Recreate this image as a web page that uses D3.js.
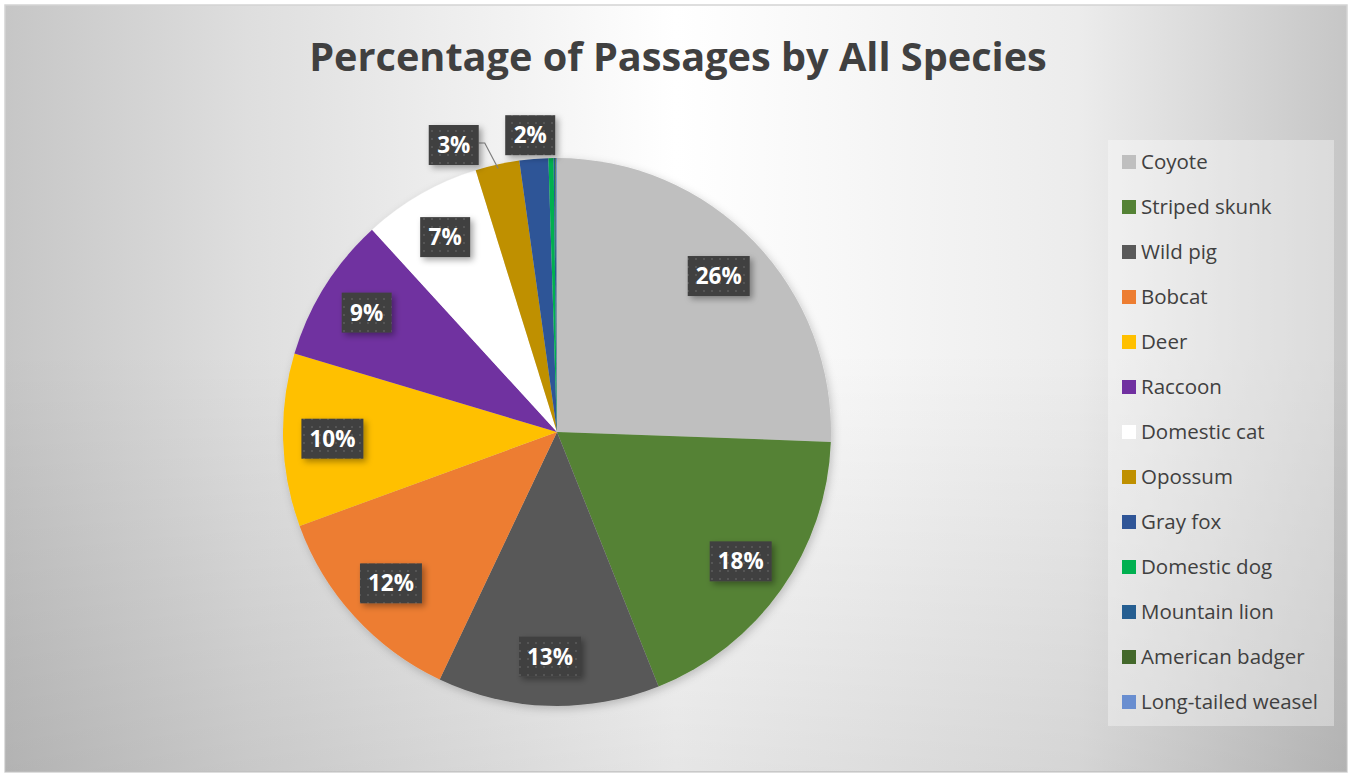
<!DOCTYPE html>
<html><head><meta charset="utf-8">
<script src="https://cdn.jsdelivr.net/npm/d3@7"></script>
<style>html,body{margin:0;padding:0;background:#fff;}svg{display:block;}</style>
</head><body>
<svg id="c" width="1352" height="776"></svg>
<script>
const categories = ["Coyote","Striped skunk","Wild pig","Bobcat","Deer","Raccoon","Domestic cat","Opossum","Gray fox","Domestic dog","Mountain lion","American badger","Long-tailed weasel"];
const values = [25.6,18.4,13.1,12.4,10.2,8.6,7.0,2.6,1.7,0.3,0.1,0.05,0.05];
const labels = ["26%","18%","13%","12%","10%","9%","7%","3%","2%","","","",""];
const colors = ["#bfbfbf","#548235","#595959","#ed7d31","#ffc000","#7030a0","#ffffff","#bf9000","#2f5597","#00b050","#255e91","#43682b","#698ed0"];
const title = "Percentage of Passages by All Species";

const svg = d3.select("#c");
const W = 1352, H = 776;
const defs = svg.append("defs");

// background: horizontal gradient + slight bottom darkening
const bg = defs.append("linearGradient").attr("id","bg").attr("x1","0").attr("x2","1").attr("y1","0").attr("y2","0");
[[0,"#c6c6c6"],[0.18,"#dedede"],[0.5,"#ffffff"],[0.8,"#ececec"],[1,"#c6c6c6"]].forEach(s=>
  bg.append("stop").attr("offset",s[0]).attr("stop-color",s[1]));
const bv = defs.append("linearGradient").attr("id","bv").attr("x1","0").attr("x2","0").attr("y1","0").attr("y2","1");
bv.append("stop").attr("offset","0.45").attr("stop-color","#000").attr("stop-opacity",0);
bv.append("stop").attr("offset","1").attr("stop-color","#000").attr("stop-opacity",0.1);

// dot pattern for label boxes
const pat = defs.append("pattern").attr("id","dots").attr("width",8).attr("height",8).attr("patternUnits","userSpaceOnUse");
pat.append("rect").attr("width",8).attr("height",8).attr("fill","#404040");
pat.append("rect").attr("x",2).attr("y",2).attr("width",2).attr("height",2).attr("fill","#555555");

const sh = defs.append("filter").attr("id","shadow").attr("x","-20%").attr("y","-20%").attr("width","150%").attr("height","150%");
sh.append("feDropShadow").attr("dx",3).attr("dy",3).attr("stdDeviation",3).attr("flood-color","#000").attr("flood-opacity",0.35);
const sh2 = defs.append("filter").attr("id","pshadow").attr("x","-10%").attr("y","-10%").attr("width","120%").attr("height","120%");
sh2.append("feDropShadow").attr("dx",2).attr("dy",3).attr("stdDeviation",4).attr("flood-color","#000").attr("flood-opacity",0.2);

svg.append("rect").attr("x",5).attr("y",5).attr("width",W-10).attr("height",H-9)
  .attr("fill","url(#bg)").attr("stroke","#d4d4d4").attr("stroke-width",1.5);
svg.append("rect").attr("x",5).attr("y",5).attr("width",W-10).attr("height",H-9).attr("fill","url(#bv)");

// title
const t = svg.append("text").attr("x",678).attr("y",71).attr("text-anchor","middle")
  .attr("font-family","'Open Sans', sans-serif").attr("font-weight","bold").attr("font-size",40)
  .attr("fill","#404040").text(title);
const tw = t.node().getComputedTextLength();
t.attr("font-size", 40*738/tw);

// pie
const cx = 557, cy = 432, R = 274;
const pie = d3.pie().sort(null).value(d=>d)(values);
const arc = d3.arc().innerRadius(0).outerRadius(R);
const g = svg.append("g").attr("transform",`translate(${cx},${cy})`);
g.append("g").attr("filter","url(#pshadow)").selectAll("path").data(pie).join("path")
  .attr("d",arc).attr("fill",(d,i)=>colors[i]);

// label font fitted to reference width
const probe = svg.append("text").attr("font-family","'Open Sans', sans-serif").attr("font-weight","bold").attr("font-size",20).text("26%");
const lfs = 20*46/probe.node().getComputedTextLength();
probe.remove();

const inner = d3.arc().innerRadius(R*0.82).outerRadius(R*0.82);
const outside = {7:{r:305,da:-7.2}, 8:{r:298,da:-0.3}};
const lg = g.append("g");
pie.forEach((d,i)=>{
  if(!labels[i]) return;
  let x,y;
  const mid = (d.startAngle+d.endAngle)/2;
  if(outside[i]){
    const a = mid + outside[i].da*Math.PI/180;
    x = outside[i].r*Math.sin(a); y = -outside[i].r*Math.cos(a);
  } else {
    [x,y] = inner.centroid(d);
  }
  const bw = labels[i].length===3 ? 62 : 50, bh = 40;
  if(i===7){
    const ex = (R-4)*Math.sin(mid), ey = -(R-4)*Math.cos(mid);
    lg.append("polyline").attr("points",`${x+bw/2},${y-2} ${x+bw/2+6},${y-2} ${ex},${ey}`)
      .attr("fill","none").attr("stroke","#7f7f7f").attr("stroke-width",1.2);
  }
  lg.append("rect").attr("x",x-bw/2).attr("y",y-bh/2).attr("width",bw).attr("height",bh)
    .attr("fill","url(#dots)").attr("filter","url(#shadow)");
  lg.append("text").attr("x",x).attr("y",y+lfs*0.36).attr("text-anchor","middle")
    .attr("font-family","'Open Sans', sans-serif").attr("font-weight","bold").attr("font-size",lfs)
    .attr("fill","#ffffff").text(labels[i]);
});

// legend
const lx = 1108, ly = 140, lw = 226, lh = 586;
svg.append("rect").attr("x",lx).attr("y",ly).attr("width",lw).attr("height",lh)
  .attr("fill","#ffffff").attr("fill-opacity",0.35);
const probe2 = svg.append("text").attr("font-family","'Open Sans', sans-serif").attr("font-size",20).text("Long-tailed weasel");
const gfs = Math.min(20.5, 20*181/probe2.node().getComputedTextLength());
probe2.remove();
const leg = svg.append("g");
categories.forEach((c,i)=>{
  const yy = 162 + i*45;
  leg.append("rect").attr("x",1122).attr("y",yy-7).attr("width",14).attr("height",14).attr("fill",colors[i]);
  leg.append("text").attr("x",1141).attr("y",yy+gfs*0.36).attr("font-family","'Open Sans', sans-serif")
    .attr("font-size",gfs).attr("fill","#404040").text(c);
});
</script>
</body></html>
